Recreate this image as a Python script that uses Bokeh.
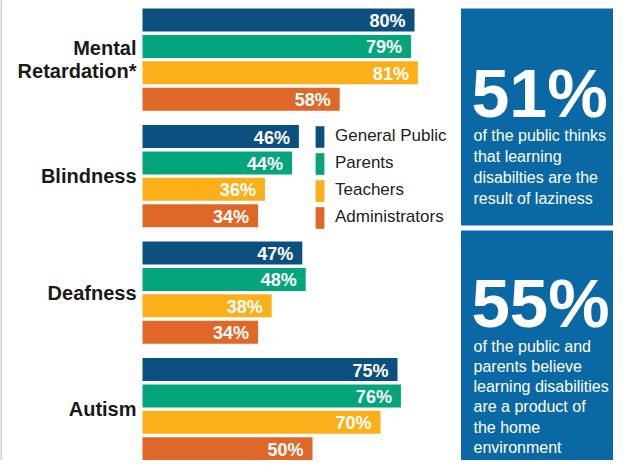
from bokeh.plotting import figure
from bokeh.models import ColumnDataSource, Range1d, Legend, LegendItem, Span
from bokeh.embed import file_html
from bokeh.resources import INLINE
from bokeh.core.properties import value

# ---------------- data ----------------
categories = ["Mental\nRetardation*", "Blindness", "Deafness", "Autism"]
series_names = ["General Public", "Parents", "Teachers", "Administrators"]
general_public = [80, 46, 47, 75]
parents = [79, 44, 48, 76]
teachers = [81, 36, 38, 70]
administrators = [58, 34, 34, 50]
callout_values = ["51%", "55%"]
callout_lines = [
    ["of the public thinks", "that learning", "disabilties are the", "result of laziness"],
    ["of the public and", "parents believe", "learning disabilities", "are a product of",
     "the home", "environment"],
]

# ---------------- styling / layout ----------------
colors = ["#0c5080", "#04a57b", "#fbb01a", "#df6727"]
PANEL = "#0a69a4"
FONT_NAME = "Liberation Sans"
FONT = value(FONT_NAME)

W, H = 613, 460
X0 = 142                   # px of 0 %
PPP = 3.4                  # px per percent
Y0 = 19.5                  # px of first bar centre
GROUP_PX = 116.5
BAR_PX = 26.4
BAR_H = 23


def xd(px):
    return (px - X0) / PPP


def yd(px):
    return (px - Y0) / GROUP_PX


p = figure(width=W, height=H, output_backend="svg", toolbar_location=None,
           x_range=Range1d(xd(0), xd(W)), y_range=Range1d(yd(H), yd(0)),
           x_axis_type=None, y_axis_type=None, min_border=0,
           min_border_left=0, min_border_right=0, min_border_top=0, min_border_bottom=0)
p.outline_line_color = None
p.grid.visible = False
p.background_fill_color = "white"
p.border_fill_color = "white"

# thin grey rule at the very left edge
p.add_layout(Span(location=xd(0.5), dimension="height", line_color="#a0a0a0", line_width=1))

# right-hand call-out panels
p.quad(left=[xd(460.5), xd(460.5)], right=[xd(W + 10), xd(W + 10)],
       top=[yd(8), yd(230)], bottom=[yd(225), yd(H + 10)],
       fill_color=PANEL, line_color=None)

# bars
all_series = [general_public, parents, teachers, administrators]
renderers = []
step = BAR_PX / GROUP_PX
for s, (name, vals) in enumerate(zip(series_names, all_series)):
    src = ColumnDataSource(dict(
        y=[g + s * step for g in range(len(categories))],
        v=vals,
        lab=[f"{v}%" for v in vals],
    ))
    r = p.hbar(y="y", left=0, right="v", height=BAR_H / GROUP_PX, source=src,
               fill_color=colors[s], line_color=None)
    renderers.append(r)
    p.text(x="v", y="y", text="lab", source=src, x_offset=-9, y_offset=1,
           text_align="right", text_baseline="middle", text_color="white",
           text_font=FONT, text_font_style="bold", text_font_size="18px")

# category labels
cat_src = ColumnDataSource(dict(
    x=[xd(136)] * len(categories),
    y=[g + 1.5 * step for g in range(len(categories))],
    t=categories,
))
p.text(x="x", y="y", text="t", source=cat_src, text_align="right",
       text_baseline="middle", text_color="#1a1a1a", text_font=FONT,
       text_font_style="bold", text_font_size="20px", text_line_height=1.05)

# call-out texts
big_mid = [92.8, 303]
big_size = ["68px", "69px"]
line_start = [135.2, 345.5]
line_step = [21.0, 20.3]
for i, big in enumerate(callout_values):
    p.text(x=[xd(471)], y=[yd(big_mid[i])], text=[big], text_align="left",
           text_baseline="middle", text_color="white", text_font=FONT,
           text_font_style="bold", text_font_size=big_size[i])
    lines = callout_lines[i]
    p.text(x=[xd(473)] * len(lines),
           y=[yd(line_start[i] + k * line_step[i]) for k in range(len(lines))],
           text=lines, text_align="left", text_baseline="middle",
           text_color="white", text_font=FONT, text_font_size="16px")

# legend (rows aligned with the Blindness bars)
row_h = 27
leg_top = Y0 + GROUP_PX - row_h / 2
legend = Legend(
    items=[LegendItem(label=n, renderers=[r]) for n, r in zip(series_names, renderers)],
    location=(314, H - (leg_top + 4 * row_h)),
    glyph_width=11, glyph_height=row_h, label_height=row_h, spacing=0, padding=0,
    margin=0, label_standoff=10, border_line_alpha=0, background_fill_alpha=0,
    label_text_font=FONT_NAME, label_text_font_size="17px", label_text_color="#222222",
)
p.add_layout(legend)

open("out.html", "w").write(file_html(p, INLINE))
